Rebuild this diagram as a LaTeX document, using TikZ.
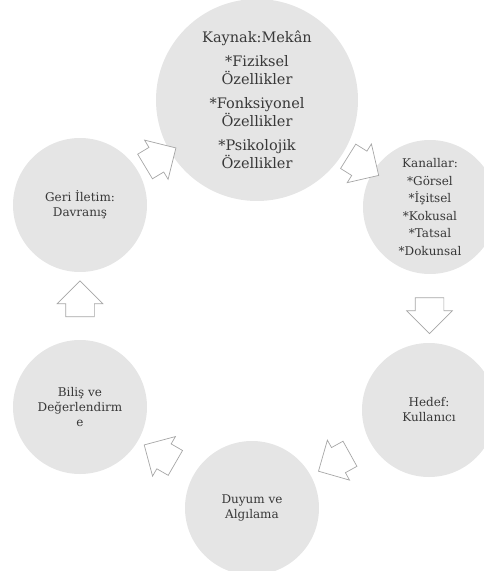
\documentclass[tikz,border=0pt]{standalone}
\usepackage{fontspec}
\setmainfont{DejaVu Serif}
\usetikzlibrary{shapes.arrows,calc}

\begin{document}
\begin{tikzpicture}[x=1pt,y=-1pt,
daire/.style={circle,fill=gray!20,minimum size=134pt,inner sep=0pt,align=center,text=black!78,font=\fontsize{12}{15}\selectfont},
okblok/.style={single arrow,draw=gray!70,fill=white,line width=0.7pt,minimum height=36pt,inner xsep=0pt,inner ysep=14pt,single arrow head extend=8.5pt}]
\useasboundingbox (0,0) rectangle (483,571);
\node[daire,minimum size=202pt,font=\fontsize{14.5}{18}\selectfont] (kaynak) at (257,100) {Kaynak:Mekân\\[6pt]{*}Fiziksel\\Özellikler\\[6pt]{*}Fonksiyonel\\Özellikler\\[6pt]{*}Psikolojik\\Özellikler};
\node[daire,font=\fontsize{12}{17.5}\selectfont] (kanal) at (430,207) {Kanallar:\\{*}Görsel\\{*}İşitsel\\{*}Kokusal\\{*}Tatsal\\{*}Dokunsal};
\node[daire] (hedef) at (429,410) {Hedef:\\Kullanıcı};
\node[daire] (duyum) at (252,508) {Duyum ve\\Algılama};
\node[daire] (bilis) at (80,407) {Biliş ve\\Değerlendirm\\e};
\node[daire] (geri) at (80,205) {Geri İletim:\\Davranış};
\node[okblok,rotate=-32] (ok1) at ($(kaynak)!0.58!(kanal)$) {};
\node[okblok,rotate=-90] (ok2) at ($(kanal)!0.5!(hedef)$) {};
\node[okblok,rotate=-151] (ok3) at ($(hedef)!0.5!(duyum)$) {};
\node[okblok,rotate=150] (ok4) at ($(duyum)!0.5!(bilis)$) {};
\node[okblok,rotate=90] (ok5) at ($(bilis)!0.5!(geri)$) {};
\node[okblok,rotate=31] (ok6) at ($(geri)!0.42!(kaynak)$) {};
\end{tikzpicture}
\end{document}
